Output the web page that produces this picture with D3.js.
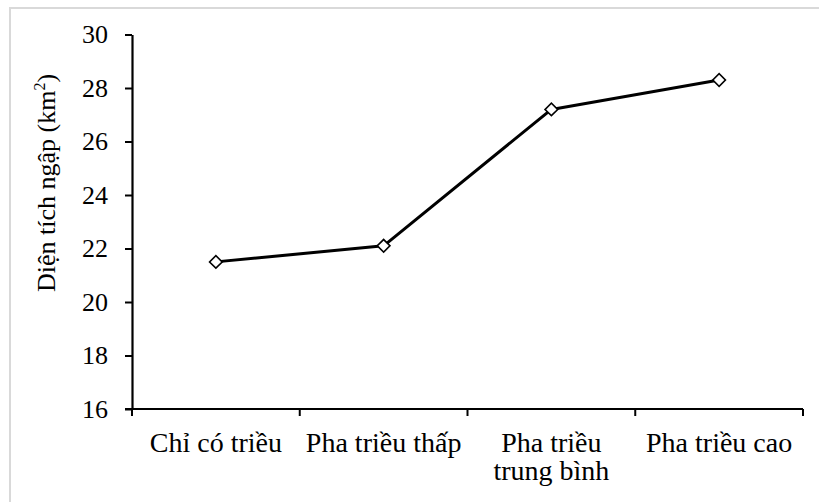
<!DOCTYPE html>
<html>
<head>
<meta charset="utf-8">
<script src="https://cdn.jsdelivr.net/npm/d3@7"></script>
<style>
  body { margin: 0; background: #fff; }
  svg { display: block; }
  svg text { font-family: "Liberation Serif", "Times New Roman", serif !important; fill: #000; }
</style>
</head>
<body>
<svg id="chart" width="819" height="502"></svg>
<script>
const categories = [["Chỉ có triều"], ["Pha triều thấp"], ["Pha triều", "trung bình"], ["Pha triều cao"]];
const categoryKeys = ["Chỉ có triều", "Pha triều thấp", "Pha triều trung bình", "Pha triều cao"];
const values = [21.5, 22.1, 27.2, 28.3];
const yTicks = [16, 18, 20, 22, 24, 26, 28, 30];
const yLabel = "Diện tích ngập (km";

const FONT = "'Liberation Serif', 'Times New Roman', serif";
const svg = d3.select("#chart");
const margin = { left: 132, right: 16, top: 34.5, bottom: 93 };
const W = 819, H = 502;

svg.append("rect").attr("x", 10).attr("y", 8).attr("width", 830).attr("height", 520)
  .attr("fill", "none").attr("stroke", "#d9d9d9").attr("stroke-width", 2);

const x = d3.scaleBand().domain(categoryKeys).range([margin.left, W - margin.right]).padding(0);
const y = d3.scaleLinear().domain([16, 30]).range([H - margin.bottom, margin.top]);

// Y axis
const yAxis = d3.axisLeft(y).tickValues(yTicks).tickSize(7).tickSizeOuter(0).tickPadding(17);
const gy = svg.append("g").attr("transform", `translate(${margin.left},0)`).call(yAxis)
  .attr("font-family", null).attr("font-size", null);
gy.select(".domain").attr("stroke", "#000").attr("stroke-width", 2.2);
gy.selectAll(".tick line").attr("stroke", "#000").attr("stroke-width", 2);
gy.selectAll(".tick text").style("font-size", "26px").style("font-family", FONT);

// X axis
const y0 = y(16);
const gx = svg.append("g");
gx.append("line").attr("x1", margin.left - 7).attr("x2", x.range()[1]).attr("y1", y0).attr("y2", y0)
  .attr("stroke", "#000").attr("stroke-width", 2.2);
const bounds = categoryKeys.map(k => x(k)).concat([x.range()[1]]);
gx.selectAll("line.xt").data(bounds).enter().append("line").attr("class", "xt")
  .attr("x1", d => d).attr("x2", d => d).attr("y1", y0).attr("y2", y0 + 7)
  .attr("stroke", "#000").attr("stroke-width", 2);
categoryKeys.forEach((k, i) => {
  const t = gx.append("text").attr("x", x(k) + x.bandwidth() / 2).attr("y", 452)
    .attr("text-anchor", "middle").style("font-size", "28px").style("font-family", FONT);
  categories[i].forEach((ln, j) => {
    t.append("tspan").attr("x", x(k) + x.bandwidth() / 2).attr("dy", j === 0 ? 0 : 28).text(ln);
  });
});

// Y label
const yl = svg.append("text").attr("transform", "translate(55,183) rotate(-90)")
  .attr("text-anchor", "middle").style("font-size", "26px").style("font-family", FONT);
yl.append("tspan").text(yLabel);
yl.append("tspan").attr("dy", -10).style("font-size", "16px").text("2");
yl.append("tspan").attr("dy", 10).text(")");

// Line
const pts = categoryKeys.map((k, i) => [x(k) + x.bandwidth() / 2, y(values[i])]);
svg.append("path").attr("d", d3.line()(pts)).attr("fill", "none")
  .attr("stroke", "#000").attr("stroke-width", 3).attr("stroke-linejoin", "round");

// Markers
const sym = d3.symbol().type(d3.symbolSquare).size(80);
svg.selectAll("path.mk").data(pts).enter().append("path").attr("class", "mk")
  .attr("d", sym).attr("transform", d => `translate(${d[0]},${d[1]}) rotate(45)`)
  .attr("fill", "#fff").attr("stroke", "#000").attr("stroke-width", 1.6);
</script>
</body>
</html>
